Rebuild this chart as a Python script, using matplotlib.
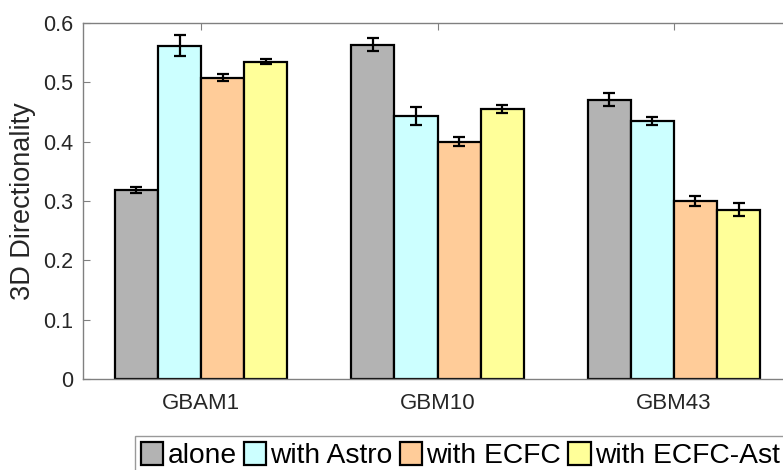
import matplotlib
matplotlib.use("Agg")
import matplotlib.pyplot as plt
import numpy as np
from matplotlib.patches import Patch

plt.rcParams['font.family'] = ['Liberation Sans', 'DejaVu Sans']

groups = ["GBAM1", "GBM10", "GBM43"]
series = ["alone", "with Astro", "with ECFC", "with ECFC-Ast"]
colors = ["#b3b3b3", "#ccffff", "#ffcc99", "#ffff99"]
values = {
    "alone":         [0.319, 0.563, 0.471],
    "with Astro":    [0.562, 0.443, 0.435],
    "with ECFC":     [0.508, 0.400, 0.300],
    "with ECFC-Ast": [0.535, 0.455, 0.285],
}
errors = {
    "alone":         [0.005, 0.011, 0.011],
    "with Astro":    [0.018, 0.015, 0.007],
    "with ECFC":     [0.006, 0.008, 0.008],
    "with ECFC-Ast": [0.004, 0.007, 0.011],
}
yticks = [0, 0.1, 0.2, 0.3, 0.4, 0.5, 0.6]

fig = plt.figure(figsize=(7.83, 4.70), dpi=100)
ax = fig.add_axes([83/783, 91/470, 709/783, 356/470])

x = np.arange(1, len(groups) + 1)
w = 0.1825
for i, s in enumerate(series):
    pos = x + (i - 1.5) * w
    ax.bar(pos, values[s], width=w, color=colors[i], edgecolor="black", linewidth=1.6, zorder=2)
    ax.errorbar(pos, values[s], yerr=errors[s], fmt="none", ecolor="black",
                elinewidth=1.6, capsize=4.5, capthick=1.6, zorder=3)

ax.set_xlim(0.5, 3.5)
ax.set_ylim(0, 0.6)
ax.set_xticks(x)
ax.set_xticklabels(groups)
ax.set_yticks(yticks)
ax.set_yticklabels([f"{t:g}" for t in yticks])
ax.tick_params(direction="in", length=5, color="#808080", labelsize=15.5, labelcolor="#262626",
               top=True, right=True, pad=7)
ax.tick_params(axis="x", labelsize=16, pad=10)
for sp in ax.spines.values():
    sp.set_color("#808080")
    sp.set_linewidth(1.0)
ax.set_ylabel("3D Directionality", fontsize=19.5, color="#262626", labelpad=5)

handles = [Patch(facecolor=c, edgecolor="black", linewidth=1.6) for c in colors]
leg = fig.legend(handles, series, loc="upper left", bbox_to_anchor=(135/783, 1 - 436/470),
                 ncol=4, frameon=True, fancybox=False,
                 prop={"family": ["Liberation Sans", "DejaVu Sans"], "size": 20.3},
                 handlelength=0.8, handleheight=0.9, handletextpad=0.15, columnspacing=0.25,
                 borderpad=0.2, borderaxespad=0)
leg.get_frame().set_edgecolor("#808080")
leg.get_frame().set_linewidth(1.0)
for t in leg.get_texts():
    t.set_color("black")

fig.savefig("out.png", dpi=100)
